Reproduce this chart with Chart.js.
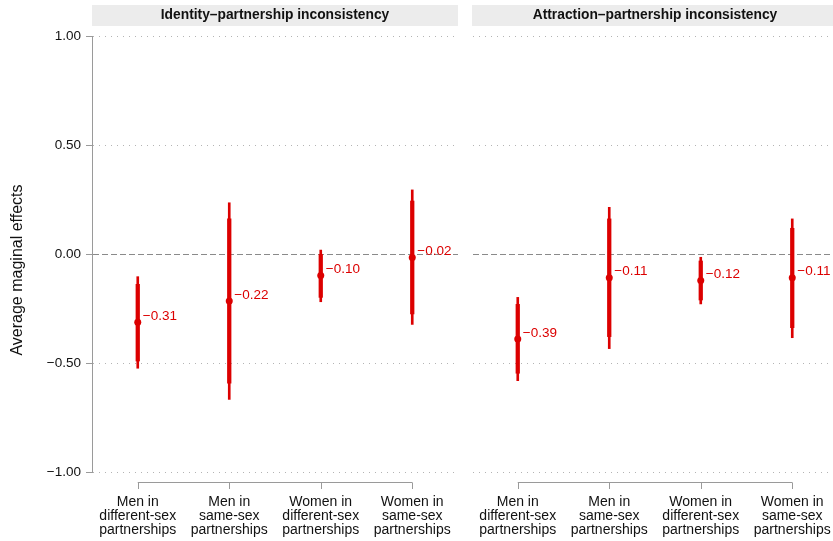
<!DOCTYPE html>
<html>
<head>
<meta charset="utf-8">
<script src="https://cdn.jsdelivr.net/npm/chart.js@4.4.0/dist/chart.umd.min.js"></script>
<style>
  html, body { margin:0; padding:0; background:#fff; overflow:hidden; }
  .wrap { position:absolute; top:0; height:541px; }
</style>
</head>
<body>
<div class="wrap" style="left:0;width:465px"><canvas id="leftChart" width="465" height="541"></canvas></div>
<div class="wrap" style="left:462px;width:380px"><canvas id="rightChart" width="380" height="541"></canvas></div>
<script>
// ---- data ----
const categories = [
  ['Men in', 'different-sex', 'partnerships'],
  ['Men in', 'same-sex', 'partnerships'],
  ['Women in', 'different-sex', 'partnerships'],
  ['Women in', 'same-sex', 'partnerships']
];
const panelTitles = ['Identity\u2013partnership inconsistency', 'Attraction\u2013partnership inconsistency'];
const yTicks = [-1, -0.5, 0, 0.5, 1];

const identityEst  = [-0.313, -0.216, -0.099, -0.016];
const identityLo95 = [-0.524, -0.667, -0.219, -0.323];
const identityHi95 = [-0.104,  0.235,  0.018,  0.294];
const identityLo90 = [-0.491, -0.593, -0.199, -0.275];
const identityHi90 = [-0.139,  0.161, -0.002,  0.243];

const attractionEst  = [-0.390, -0.109, -0.121, -0.109];
const attractionLo95 = [-0.581, -0.434, -0.229, -0.384];
const attractionHi95 = [-0.199,  0.214, -0.015,  0.161];
const attractionLo90 = [-0.547, -0.379, -0.211, -0.338];
const attractionHi90 = [-0.231,  0.161, -0.032,  0.118];

const RED = '#dc0000';
const FONT = '"Liberation Sans", Arial, Helvetica, sans-serif';
const fmtNum = v => (v < 0 ? '\u2212' : '') + Math.abs(v).toFixed(2);

// header strip, grid lines, bracket axis, value labels
const panelDeco = {
  id: 'panelDeco',
  beforeDatasetsDraw(chart, args, opts) {
    const { ctx, chartArea: a } = chart;
    const y = chart.scales.y;
    ctx.save();
    // header strip
    ctx.fillStyle = '#ececec';
    ctx.fillRect(a.left, 5, a.right - a.left, 21);
    ctx.fillStyle = '#111';
    ctx.font = 'bold 13.8px ' + FONT;
    ctx.textAlign = 'center';
    ctx.textBaseline = 'middle';
    ctx.fillText(opts.title, (a.left + a.right) / 2, 15.5);
    // grid lines
    yTicks.forEach(v => {
      const py = Math.round(y.getPixelForValue(v)) + 0.5;
      ctx.beginPath();
      if (v === 0) { ctx.setLineDash([6, 3]); ctx.strokeStyle = '#8a8a8a'; ctx.lineWidth = 1.2; }
      else { ctx.setLineDash([1, 5]); ctx.strokeStyle = '#b4b4b4'; ctx.lineWidth = 1; }
      ctx.moveTo(a.left + 1, py);
      ctx.lineTo(a.right, py);
      ctx.stroke();
    });
    ctx.setLineDash([]);
    // x bracket
    const x = chart.scales.x;
    const x0 = x.getPixelForValue(0), x1 = x.getPixelForValue(categories.length - 1);
    ctx.strokeStyle = '#9a9a9a';
    ctx.lineWidth = 1;
    ctx.beginPath();
    ctx.moveTo(x0, 482.5); ctx.lineTo(x1, 482.5);
    categories.forEach((c, i) => {
      const px = Math.round(x.getPixelForValue(i)) + 0.5;
      ctx.moveTo(px, 482.5); ctx.lineTo(px, 489);
    });
    ctx.stroke();
    // y title on the left panel
    if (opts.yTitle) {
      ctx.fillStyle = '#111';
      ctx.font = '16px ' + FONT;
      ctx.translate(18, 270);
      ctx.rotate(-Math.PI / 2);
      ctx.fillText(opts.yTitle, 0, 0);
    }
    ctx.restore();
  },
  afterDatasetsDraw(chart) {
    const { ctx } = chart;
    const meta = chart.getDatasetMeta(2);
    const vals = chart.data.datasets[2].data;
    ctx.save();
    ctx.fillStyle = RED;
    ctx.font = '13.5px ' + FONT;
    ctx.textAlign = 'left';
    ctx.textBaseline = 'middle';
    meta.data.forEach((pt, i) => ctx.fillText(fmtNum(vals[i]), pt.x + 5, pt.y - 6));
    ctx.restore();
  }
};

function makePanel(id, title, est, lo95, hi95, lo90, hi90, isLeft) {
  return new Chart(document.getElementById(id), {
    type: 'bar',
    data: {
      labels: categories,
      datasets: [
        { data: lo95.map((v, i) => [v, hi95[i]]), backgroundColor: RED, barThickness: 2, grouped: false, order: 3 },
        { data: lo90.map((v, i) => [v, hi90[i]]), backgroundColor: RED, barThickness: 3.6, grouped: false, order: 2 },
        { type: 'line', data: est, showLine: false, pointRadius: 3.5, pointBackgroundColor: RED, pointBorderWidth: 0, order: 1 }
      ]
    },
    options: {
      responsive: false,
      animation: false,
      layout: { padding: isLeft ? { top: 36, left: 0, right: 7, bottom: 0 } : { top: 36, left: 10, right: 4, bottom: 0 } },
      plugins: {
        legend: { display: false },
        tooltip: { enabled: false },
        panelDeco: { title: title, yTitle: isLeft ? 'Average maginal effects' : null }
      },
      scales: {
        x: {
          offset: true,
          grid: { display: false, drawTicks: false },
          border: { display: false },
          ticks: { padding: 23, color: '#111', maxRotation: 0, autoSkip: false, font: { family: FONT, size: 14, lineHeight: 1 } },
          afterFit: s => { s.height = 69; s.paddingLeft = 0; s.paddingRight = 0; }
        },
        y: {
          display: isLeft,
          min: -1, max: 1,
          afterBuildTicks: s => { s.ticks = yTicks.map(v => ({ value: v })); },
          afterFit: s => { if (isLeft) s.width = 92; },
          grid: { drawOnChartArea: false, drawTicks: true, tickLength: 6, tickColor: '#9a9a9a' },
          border: { display: true, color: '#9a9a9a', width: 1 },
          ticks: { padding: 5, color: '#111', font: { family: FONT, size: 13.5 }, callback: v => fmtNum(v) }
        }
      }
    },
    plugins: [panelDeco]
  });
}

makePanel('leftChart', panelTitles[0], identityEst, identityLo95, identityHi95, identityLo90, identityHi90, true);
makePanel('rightChart', panelTitles[1], attractionEst, attractionLo95, attractionHi95, attractionLo90, attractionHi90, false);
</script>
</body>
</html>
